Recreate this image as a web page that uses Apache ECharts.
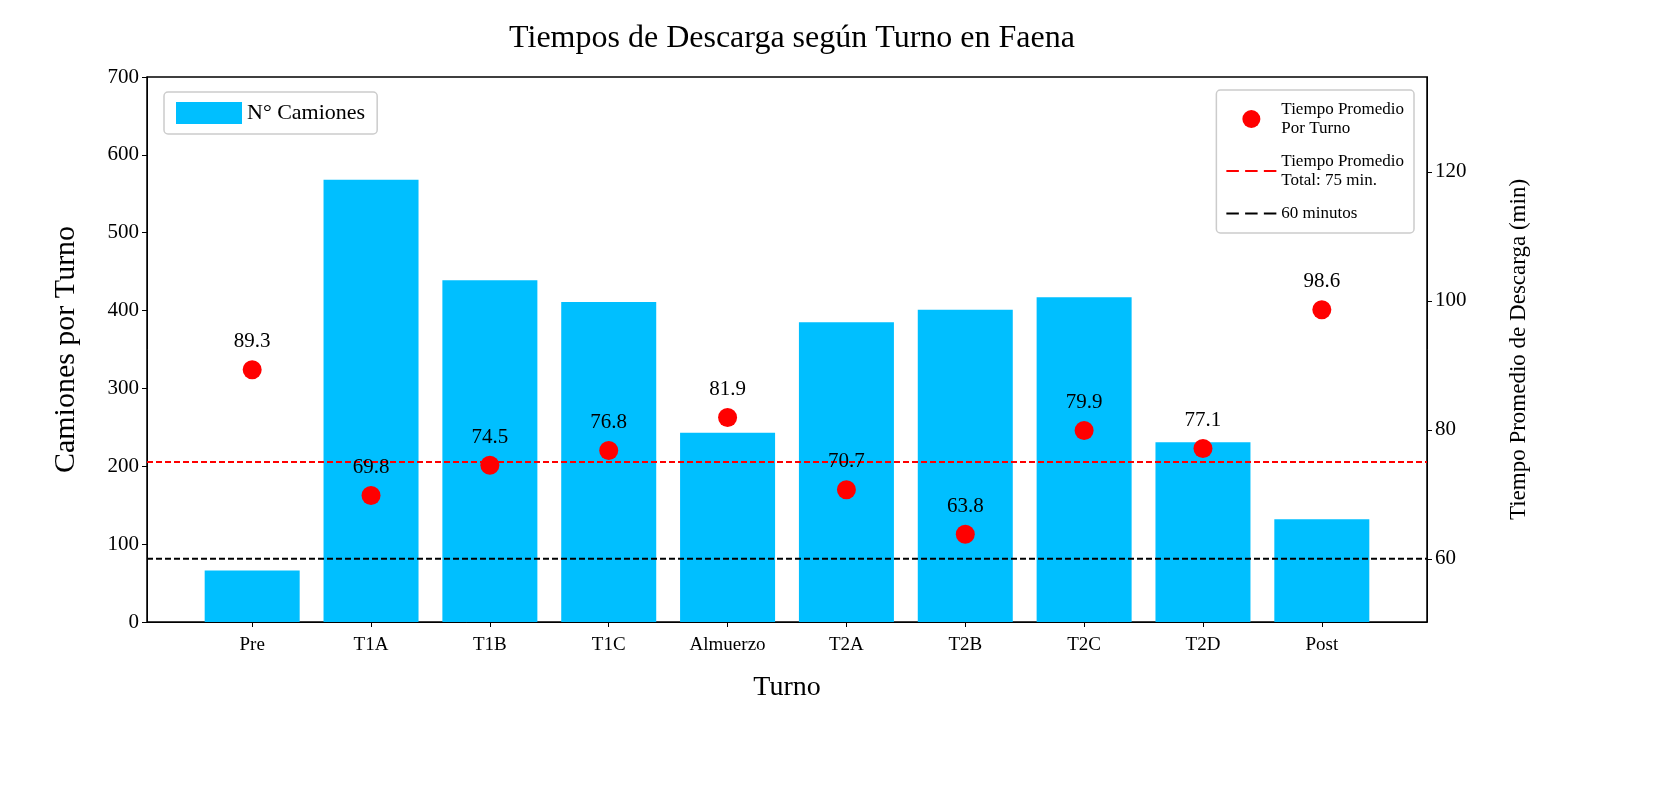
<!DOCTYPE html>
<html><head><meta charset="utf-8">
<script src="https://cdn.jsdelivr.net/npm/echarts@6/dist/echarts.min.js"></script>
<style>html,body{margin:0;background:#fff}#c{width:1660px;height:790px}</style>
</head><body><div id="c"></div>
<script>
var turnos = ['Pre','T1A','T1B','T1C','Almuerzo','T2A','T2B','T2C','T2D','Post'];
var camiones = [66, 568, 439, 411, 243, 385, 401, 417, 231, 132];
var tiempos = [89.3, 69.8, 74.5, 76.8, 81.9, 70.7, 63.8, 79.9, 77.1, 98.6];
var promedioTotal = 75;
var limite = 60;

var F = 'Liberation Serif, DejaVu Serif, serif';
var xMin = -0.885, xMax = 9.885;
var chart = echarts.init(document.getElementById('c'));
chart.setOption({
  animation: false,
  textStyle: {fontFamily: F, color: '#000'},
  title: {text: 'Tiempos de Descarga según Turno en Faena', left: 787, textAlign: 'center', top: 18,
    textStyle: {fontFamily: F, fontSize: 32, fontWeight: 'normal', color: '#000'}},
  grid: {left: 147, right: 233, top: 77, bottom: 168, show: true, borderColor: '#000', borderWidth: 1.5},
  legend: [
    {data: [{name: 'N° Camiones', icon: 'rect'}], left: 164, top: 92, orient: 'vertical', itemWidth: 66, itemHeight: 22,
      padding: [10, 12], borderColor: '#ccc', borderWidth: 1.5, borderRadius: 4,
      textStyle: {fontFamily: F, fontSize: 22, color: '#000'}},
    {data: [{name: 'Tiempo Promedio\nPor Turno', icon: 'circle'},
            {name: 'Tiempo Promedio\nTotal: 75 min.', icon: 'path://M0,0 L6,0 L6,1 L0,1 Z M9,0 L15,0 L15,1 L9,1 Z M18,0 L24,0 L24,1 L18,1 Z'},
            {name: '60 minutos', icon: 'path://M0,0 L6,0 L6,1 L0,1 Z M9,0 L15,0 L15,1 L9,1 Z M18,0 L24,0 L24,1 L18,1 Z'}],
      right: 246, top: 90, orient: 'vertical', itemGap: 14, itemWidth: 50, itemHeight: 18,
      padding: [10, 10], borderColor: '#ccc', borderWidth: 1.5, borderRadius: 4,
      textStyle: {fontFamily: F, fontSize: 17, lineHeight: 19, color: '#000'}}
  ],
  xAxis: {type: 'value', min: xMin, max: xMax, name: 'Turno', nameLocation: 'middle', nameGap: 52,
    nameTextStyle: {fontSize: 28},
    splitLine: {show: false},
    axisLine: {lineStyle: {color: '#000'}},
    axisTick: {customValues: [0,1,2,3,4,5,6,7,8,9], lineStyle: {color: '#000'}},
    axisLabel: {customValues: [0,1,2,3,4,5,6,7,8,9], fontSize: 19, color: '#000', margin: 14,
      formatter: function (v) { return turnos[Math.round(v)]; }}},
  yAxis: [
    {type: 'value', min: 0, max: 700, interval: 100, name: 'Camiones por Turno', nameLocation: 'middle',
      nameGap: 66, nameTextStyle: {fontSize: 30}, splitLine: {show: false},
      axisLine: {show: true, onZero: false, lineStyle: {color: '#000'}}, axisTick: {show: true},
      axisLabel: {fontSize: 21, color: '#000'}},
    {type: 'value', min: 50.2, max: 134.7, name: 'Tiempo Promedio de Descarga (min)', nameLocation: 'middle',
      nameGap: 80, nameRotate: 90, nameTextStyle: {fontSize: 23}, splitLine: {show: false},
      axisLine: {show: true, onZero: false, lineStyle: {color: '#000'}},
      axisTick: {show: true, customValues: [60, 80, 100, 120]},
      axisLabel: {fontSize: 21, color: '#000', customValues: [60, 80, 100, 120]}}
  ],
  series: [
    {name: 'N° Camiones', type: 'bar', barWidth: 95, itemStyle: {color: '#00bfff'},
      data: camiones.map(function (v, i) { return [i, v]; })},
    {name: 'Tiempo Promedio\nTotal: 75 min.', type: 'line', yAxisIndex: 1, symbol: 'none',
      lineStyle: {color: '#ff0000', type: [6, 3], width: 2}, itemStyle: {color: '#ff0000'},
      data: [[xMin, promedioTotal], [xMax, promedioTotal]]},
    {name: '60 minutos', type: 'line', yAxisIndex: 1, symbol: 'none',
      lineStyle: {color: '#000', type: [6, 3], width: 2}, itemStyle: {color: '#000'},
      data: [[xMin, limite], [xMax, limite]]},
    {name: 'Tiempo Promedio\nPor Turno', type: 'scatter', yAxisIndex: 1, symbolSize: 19, z: 5,
      itemStyle: {color: '#ff0000', opacity: 1},
      label: {show: true, position: 'top', distance: 8, fontSize: 21, fontFamily: F, color: '#000',
        formatter: function (p) { return p.value[1].toFixed(1); }},
      data: tiempos.map(function (v, i) { return [i, v]; })}
  ]
});
</script></body></html>
